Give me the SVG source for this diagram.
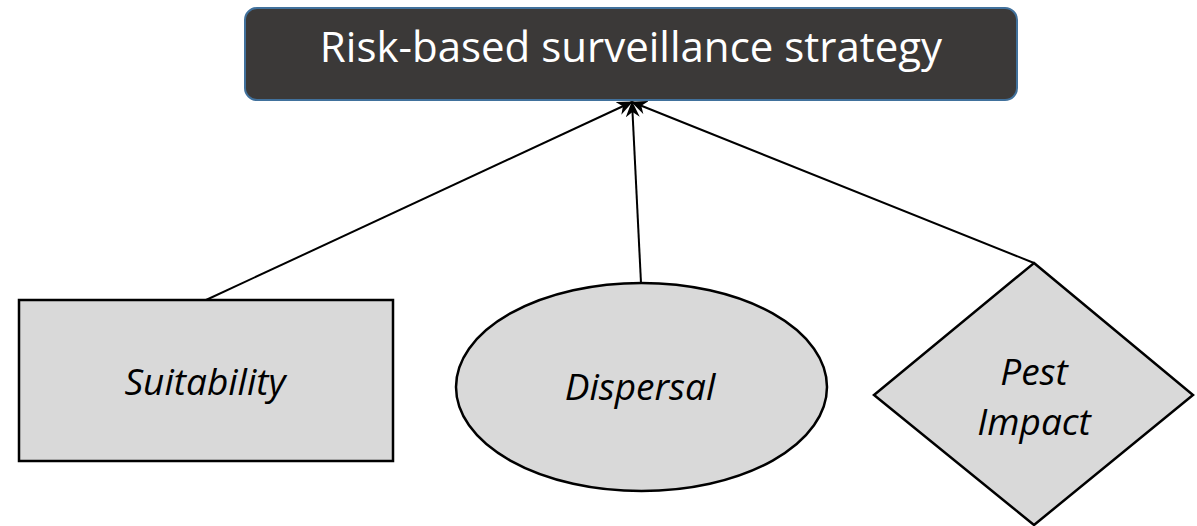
<svg xmlns="http://www.w3.org/2000/svg" width="1197" height="526" viewBox="0 0 1197 526">
<style>
.shape{fill:#d9d9d9;stroke:#000;stroke-width:2.5}
.lbl{font-family:"Open Sans","Liberation Sans",sans-serif;font-style:italic;font-size:37px;fill:#000;text-anchor:middle}
.conn{stroke:#000;stroke-width:2;fill:none;marker-end:url(#arr)}
</style>
<defs>
<marker id="arr" viewBox="0 0 16 14" refX="15" refY="7" markerWidth="16" markerHeight="14" markerUnits="userSpaceOnUse" orient="auto">
<path d="M0,0 L16,7 L0,14 L5,7 Z" fill="#000"/>
</marker>
</defs>
<rect width="1197" height="526" fill="#fff"/>
<g id="connectors">
<line class="conn" x1="206" y1="300" x2="632" y2="102"/>
<line class="conn" x1="641" y1="283" x2="632" y2="102"/>
<line class="conn" x1="1034" y1="263" x2="632" y2="102"/>
</g>
<g id="strategy">
<rect x="245" y="8" width="772" height="92" rx="12" fill="#3b3938" stroke="#41719c" stroke-width="2"/>
<text x="631" y="62" font-family="'Open Sans','Liberation Sans',sans-serif" font-size="42" fill="#fff" text-anchor="middle">Risk-based surveillance strategy</text>
</g>
<g id="suitability">
<rect class="shape" x="19" y="300" width="374" height="161"/>
<text class="lbl" x="205" y="395">Suitability</text>
</g>
<g id="dispersal">
<ellipse class="shape" cx="641.5" cy="387" rx="185.5" ry="104"/>
<text class="lbl" x="640" y="400">Dispersal</text>
</g>
<g id="pest-impact">
<polygon class="shape" points="1034,263 1193,395 1034,525 874,395"/>
<text class="lbl" x="1034" y="385">Pest</text>
<text class="lbl" x="1034" y="435">Impact</text>
</g>
</svg>
